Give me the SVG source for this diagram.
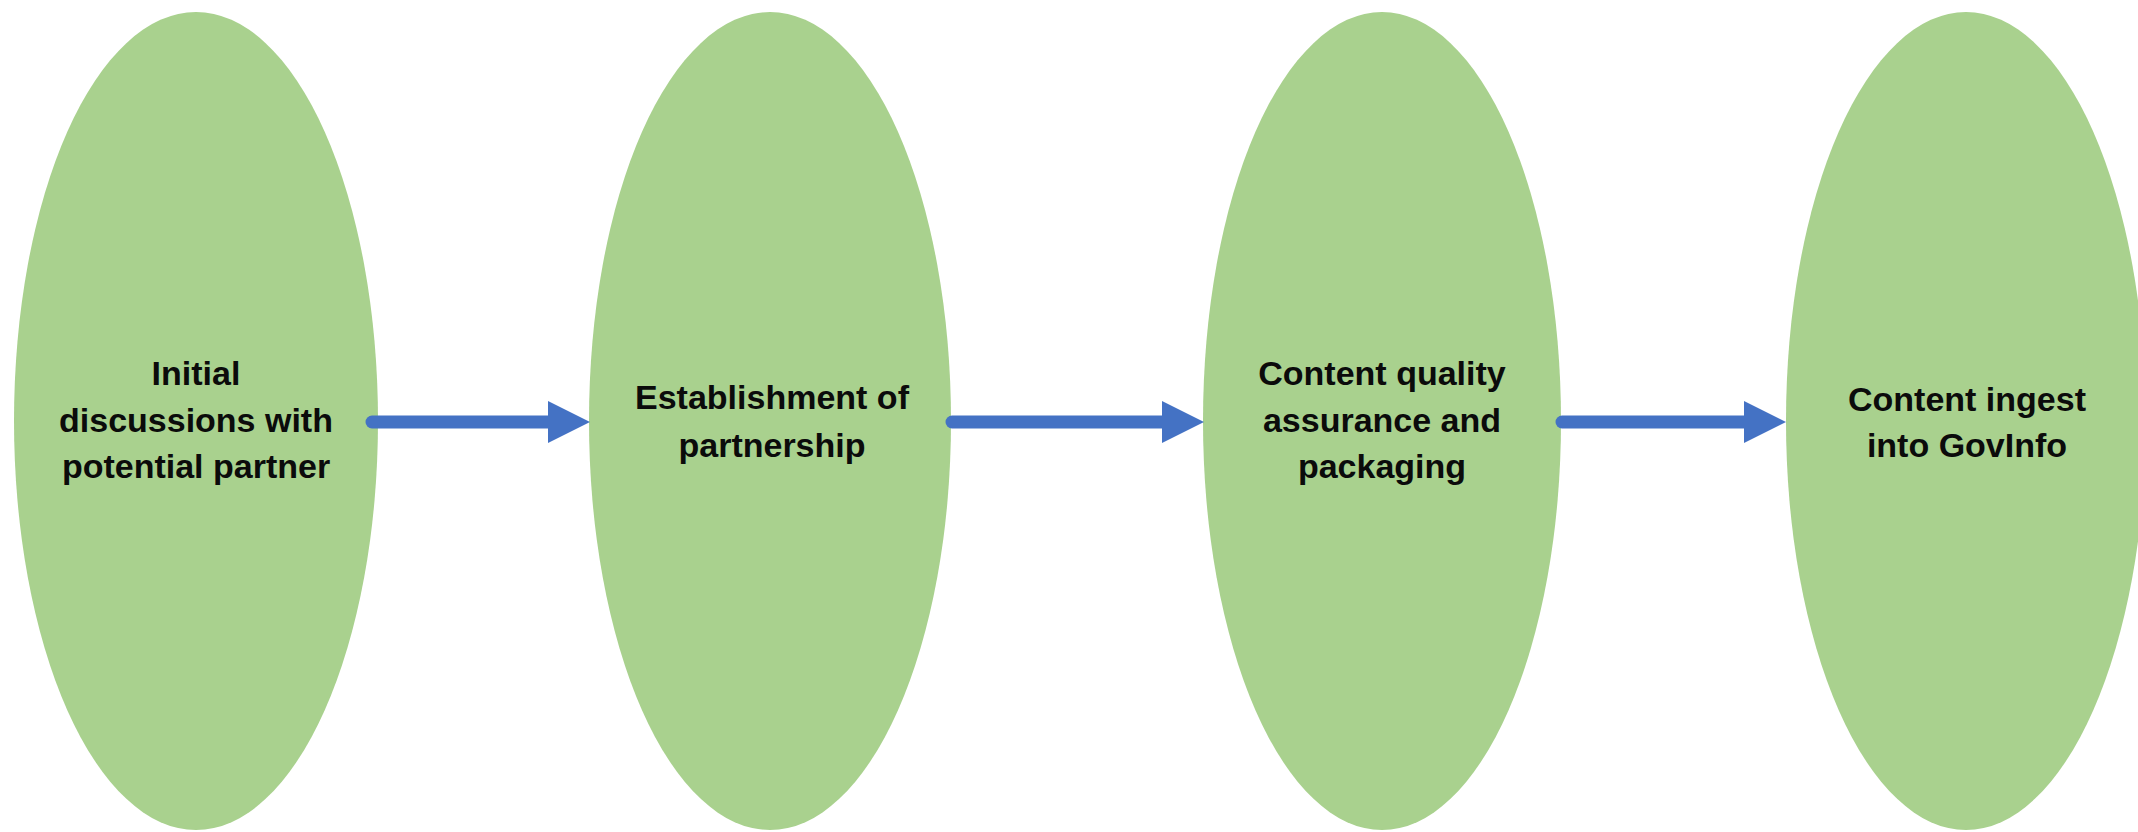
<svg xmlns="http://www.w3.org/2000/svg" width="2138" height="832" viewBox="0 0 2138 832">
<style>
.node{fill:#A9D18E;}
.lbl{font-family:"Liberation Sans",Arial,sans-serif;font-weight:bold;font-size:34px;fill:#0b0b0b;text-anchor:middle;}
.conn{stroke:#4472C4;stroke-width:13;stroke-linecap:round;fill:none;}
</style>
<defs>
<marker id="ah" markerUnits="userSpaceOnUse" markerWidth="42" markerHeight="42" refX="4" refY="21" orient="auto">
<path d="M0,0 L42,21 L0,42 Z" fill="#4472C4"/>
</marker>
</defs>
<rect width="2138" height="832" fill="#ffffff"/>
<g id="n1">
<ellipse class="node" cx="196" cy="421" rx="182" ry="409"/>
<text class="lbl"><tspan x="196" y="385">Initial</tspan><tspan x="196" y="432">discussions with</tspan><tspan x="196" y="478">potential partner</tspan></text>
</g>
<g id="n2">
<ellipse class="node" cx="770" cy="421" rx="181" ry="409"/>
<text class="lbl"><tspan x="772" y="409">Establishment of</tspan><tspan x="772" y="457">partnership</tspan></text>
</g>
<g id="n3">
<ellipse class="node" cx="1382" cy="421" rx="179" ry="409"/>
<text class="lbl"><tspan x="1382" y="385">Content quality</tspan><tspan x="1382" y="432">assurance and</tspan><tspan x="1382" y="478">packaging</tspan></text>
</g>
<g id="n4">
<ellipse class="node" cx="1966" cy="421" rx="180" ry="409"/>
<text class="lbl"><tspan x="1967" y="411">Content ingest</tspan><tspan x="1967" y="457">into GovInfo</tspan></text>
</g>
<g id="connectors">
<line class="conn" x1="372" y1="422" x2="552" y2="422" marker-end="url(#ah)"/>
<line class="conn" x1="952" y1="422" x2="1166" y2="422" marker-end="url(#ah)"/>
<line class="conn" x1="1562" y1="422" x2="1748" y2="422" marker-end="url(#ah)"/>
</g>
</svg>
